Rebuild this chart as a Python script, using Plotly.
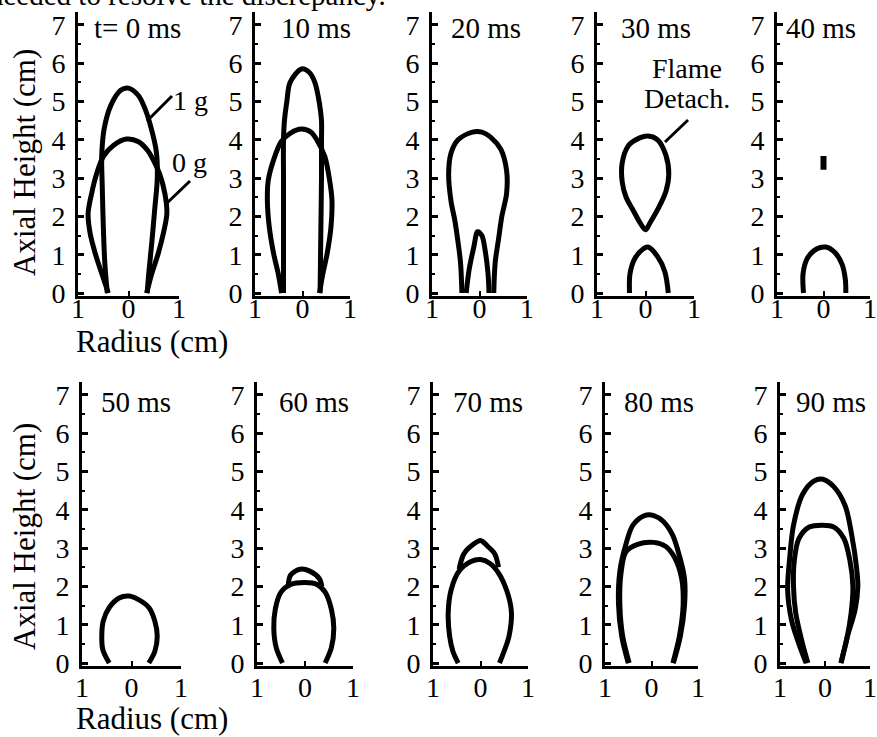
import plotly.graph_objects as go

# ---------------- data (r and z in cm) ----------------
panel_titles = ["t= 0 ms", "10 ms", "20 ms", "30 ms", "40 ms",
                "50 ms", "60 ms", "70 ms", "80 ms", "90 ms"]
y_tick_vals = [0, 1, 2, 3, 4, 5, 6, 7]
y_tick_text = ["0", "1", "2", "3", "4", "5", "6", "7"]
x_tick_vals = [-1, 0, 1]
x_tick_text = ["1", "0", "1"]

# t = 0 ms
r_0ms_1g = [-0.42, -0.47, -0.50, -0.52, -0.53, -0.48, -0.35, -0.15, 0.00, 0.20, 0.33, 0.45, 0.55, 0.57, 0.52, 0.46, 0.40, 0.37]
z_0ms_1g = [0.00, 0.80, 1.80, 2.80, 3.60, 4.30, 4.90, 5.30, 5.35, 5.15, 4.80, 4.30, 3.70, 3.00, 2.20, 1.30, 0.50, 0.00]
r_0ms_0g = [-0.40, -0.53, -0.66, -0.76, -0.80, -0.73, -0.63, -0.50, -0.30, -0.04, 0.20, 0.38, 0.50, 0.62, 0.72, 0.76, 0.69, 0.59, 0.46, 0.36]
z_0ms_0g = [0.00, 0.51, 1.04, 1.56, 2.08, 2.60, 3.12, 3.56, 3.85, 4.02, 3.95, 3.72, 3.45, 3.10, 2.60, 2.08, 1.56, 1.04, 0.50, 0.00]
# 10 ms
r_10ms_1g = [-0.40, -0.40, -0.40, -0.40, -0.40, -0.38, -0.33, -0.26, -0.02, 0.15, 0.26, 0.35, 0.40, 0.40, 0.40, 0.39, 0.38, 0.37]
z_10ms_1g = [0.00, 1.00, 2.00, 3.00, 4.00, 4.50, 5.00, 5.50, 5.85, 5.75, 5.50, 5.00, 4.50, 4.00, 3.00, 2.00, 1.00, 0.00]
r_10ms_0g = [-0.44, -0.51, -0.61, -0.70, -0.74, -0.72, -0.61, -0.45, -0.26, -0.02, 0.18, 0.30, 0.47, 0.57, 0.62, 0.60, 0.52, 0.42, 0.36]
z_10ms_0g = [0.00, 0.50, 1.04, 1.73, 2.43, 2.95, 3.47, 3.95, 4.17, 4.28, 4.20, 4.00, 3.56, 2.95, 2.43, 1.73, 1.04, 0.45, 0.00]
# 20 ms
r_20ms_a = [-0.37, -0.40, -0.46, -0.52, -0.60, -0.65, -0.60, -0.45, -0.15, 0.05, 0.25, 0.45, 0.57, 0.57, 0.47, 0.40, 0.33, 0.30]
z_20ms_a = [0.00, 0.80, 1.40, 1.90, 2.40, 3.10, 3.65, 4.00, 4.20, 4.20, 4.05, 3.75, 3.20, 2.60, 2.00, 1.40, 0.80, 0.00]
r_20ms_b = [-0.28, -0.22, -0.12, -0.04, 0.05, 0.12, 0.18, 0.20]
z_20ms_b = [0.00, 0.60, 1.20, 1.60, 1.50, 1.10, 0.50, 0.00]
# 30 ms (detached flame + base flame)
r_30ms_a = [0.00, -0.12, -0.25, -0.40, -0.48, -0.48, -0.35, -0.12, 0.05, 0.25, 0.42, 0.48, 0.42, 0.28, 0.10, 0.00]
z_30ms_a = [1.65, 1.85, 2.15, 2.50, 2.90, 3.40, 3.85, 4.05, 4.10, 4.00, 3.60, 3.10, 2.65, 2.25, 1.85, 1.65]
r_30ms_b = [-0.33, -0.32, -0.22, -0.05, 0.05, 0.25, 0.40, 0.47]
z_30ms_b = [0.00, 0.50, 0.90, 1.15, 1.20, 0.95, 0.55, 0.00]
# 40 ms
r_40ms_a = [0.00, 0.00]
z_40ms_a = [3.22, 3.58]
r_40ms_b = [-0.43, -0.44, -0.35, -0.15, 0.05, 0.25, 0.40, 0.47, 0.48]
z_40ms_b = [0.00, 0.50, 0.90, 1.15, 1.20, 1.05, 0.75, 0.35, 0.00]
# 50 ms
r_50ms = [-0.45, -0.58, -0.60, -0.57, -0.45, -0.25, -0.05, 0.15, 0.35, 0.47, 0.52, 0.47, 0.35]
z_50ms = [0.00, 0.35, 0.75, 1.10, 1.45, 1.70, 1.75, 1.65, 1.45, 1.10, 0.70, 0.30, 0.00]
# 60 ms
r_60ms_0g = [-0.47, -0.60, -0.65, -0.62, -0.50, -0.30, 0.00, 0.25, 0.42, 0.55, 0.60, 0.55, 0.42]
z_60ms_0g = [0.00, 0.40, 0.90, 1.40, 1.85, 2.05, 2.10, 2.05, 1.85, 1.40, 0.90, 0.40, 0.00]
r_60ms_1g = [-0.35, -0.30, -0.10, 0.10, 0.30, 0.35]
z_60ms_1g = [2.00, 2.30, 2.45, 2.40, 2.20, 2.00]
# 70 ms
r_70ms_0g = [-0.47, -0.58, -0.65, -0.68, -0.62, -0.45, -0.20, 0.00, 0.20, 0.38, 0.55, 0.65, 0.60, 0.48, 0.40]
z_70ms_0g = [0.00, 0.30, 0.70, 1.30, 1.90, 2.40, 2.65, 2.70, 2.60, 2.35, 1.90, 1.35, 0.70, 0.25, 0.00]
r_70ms_1g = [-0.45, -0.35, -0.15, 0.00, 0.15, 0.30, 0.38]
z_70ms_1g = [2.45, 2.85, 3.10, 3.20, 3.05, 2.85, 2.50]
# 80 ms
r_80ms_1g = [-0.50, -0.64, -0.71, -0.68, -0.55, -0.40, -0.15, 0.05, 0.25, 0.45, 0.60, 0.71, 0.71, 0.62, 0.47]
z_80ms_1g = [0.00, 0.70, 1.55, 2.40, 3.10, 3.60, 3.85, 3.85, 3.70, 3.35, 2.80, 2.20, 1.50, 0.70, 0.00]
r_80ms_0g = [-0.48, -0.62, -0.68, -0.66, -0.55, -0.30, 0.05, 0.30, 0.50, 0.65, 0.68, 0.60, 0.46]
z_80ms_0g = [0.00, 0.70, 1.50, 2.30, 2.90, 3.10, 3.15, 3.05, 2.75, 2.20, 1.50, 0.70, 0.00]
# 90 ms
r_90ms_1g = [-0.42, -0.58, -0.74, -0.83, -0.78, -0.70, -0.50, -0.25, -0.05, 0.20, 0.45, 0.60, 0.70, 0.73, 0.67, 0.50, 0.36]
z_90ms_1g = [0.00, 0.50, 1.10, 1.90, 2.80, 3.60, 4.40, 4.75, 4.80, 4.60, 4.10, 3.30, 2.50, 2.00, 1.40, 0.70, 0.00]
r_90ms_0g = [-0.38, -0.52, -0.65, -0.70, -0.68, -0.58, -0.35, -0.05, 0.20, 0.42, 0.55, 0.62, 0.58, 0.48, 0.35]
z_90ms_0g = [0.00, 0.60, 1.30, 2.00, 2.70, 3.25, 3.55, 3.60, 3.55, 3.25, 2.70, 2.00, 1.30, 0.60, 0.00]

panel_curves = [
    [(r_0ms_1g, z_0ms_1g), (r_0ms_0g, z_0ms_0g)],
    [(r_10ms_1g, z_10ms_1g), (r_10ms_0g, z_10ms_0g)],
    [(r_20ms_a, z_20ms_a), (r_20ms_b, z_20ms_b)],
    [(r_30ms_a, z_30ms_a), (r_30ms_b, z_30ms_b)],
    [(r_40ms_a, z_40ms_a), (r_40ms_b, z_40ms_b)],
    [(r_50ms, z_50ms)],
    [(r_60ms_0g, z_60ms_0g), (r_60ms_1g, z_60ms_1g)],
    [(r_70ms_0g, z_70ms_0g), (r_70ms_1g, z_70ms_1g)],
    [(r_80ms_1g, z_80ms_1g), (r_80ms_0g, z_80ms_0g)],
    [(r_90ms_1g, z_90ms_1g), (r_90ms_0g, z_90ms_0g)],
]

# ---------------- geometry / style ----------------
W, H = 877, 737
FONT = "'Liberation Serif', 'Times New Roman', Times, serif"
panel_x_px = [(78, 179), (255, 350), (432, 527), (597, 694), (777, 870),
              (82, 181), (257, 353), (433, 528), (605, 698), (780, 870)]
row_y_px = [(296.1, 11.5), (666.1, 381.5)]
row_xlabel_standoff = [-15, -6]
title_px = [(92, 28), (279, 28), (449, 28), (619, 28), (784, 28),
            (99, 402), (277, 402), (451, 402), (622, 402), (794, 402)]


def px(x):
    return x / W


def py(y):
    return 1 - y / H


fig = go.Figure()
layout = dict(width=W, height=H, margin=dict(l=0, r=0, t=0, b=0, pad=0, autoexpand=False),
              paper_bgcolor="white", plot_bgcolor="white", showlegend=False,
              font=dict(family=FONT, size=28, color="black"))

annotations = []
for i in range(10):
    k = "" if i == 0 else str(i + 1)
    row = 0 if i < 5 else 1
    x0, x1 = panel_x_px[i]
    yb, yt = row_y_px[row]
    layout["xaxis" + k] = dict(
        domain=[px(x0), px(x1)], range=[-1, 1], anchor="y" + k,
        showline=True, linewidth=3, linecolor="black",
        ticks="inside", ticklen=5, tickwidth=2, tickcolor="black",
        tickvals=x_tick_vals, ticktext=x_tick_text,
        showgrid=False, zeroline=False, fixedrange=True, automargin=False,
        tickfont=dict(family=FONT, size=28), ticklabelstandoff=row_xlabel_standoff[row])
    layout["yaxis" + k] = dict(
        domain=[py(yb), py(yt)], range=[-0.08, 7.35], anchor="x" + k,
        showline=True, linewidth=3, linecolor="black",
        ticks="inside", ticklen=6, tickwidth=3, tickcolor="black",
        tickvals=y_tick_vals, ticktext=y_tick_text,
        minor=dict(ticks="inside", ticklen=3, tickwidth=2, dtick=0.5, tickcolor="black"),
        showgrid=False, zeroline=False, fixedrange=True, automargin=False,
        tickfont=dict(family=FONT, size=28), ticklabelstandoff=4)
    for (rr, zz) in panel_curves[i]:
        w = 6 if len(rr) == 2 else 5
        fig.add_trace(go.Scatter(
            x=rr, y=zz, mode="lines", xaxis="x" + k, yaxis="y" + k,
            line=dict(color="black", width=w, shape="spline", smoothing=0.9),
            hoverinfo="skip"))
    tx, ty = title_px[i]
    annotations.append(dict(text=panel_titles[i], x=px(tx), y=py(ty), xref="paper", yref="paper",
                            xanchor="left", yanchor="middle", showarrow=False,
                            font=dict(family=FONT, size=29)))

# axis titles
for yc in (341, 718):
    annotations.append(dict(text="Radius (cm)", x=px(152), y=py(yc), xref="paper", yref="paper",
                            xanchor="center", yanchor="middle", showarrow=False,
                            font=dict(family=FONT, size=31)))
for yc in (163, 537):
    annotations.append(dict(text="Axial Height (cm)", x=px(24), y=py(yc), xref="paper", yref="paper",
                            xanchor="center", yanchor="middle", textangle=-90, showarrow=False,
                            font=dict(family=FONT, size=31)))

# labels
for txt, xc, yc in (("1 g", 190, 101), ("0 g", 189, 162), ("Flame", 687, 68), ("Detach.", 687, 99)):
    annotations.append(dict(text=txt, x=px(xc), y=py(yc), xref="paper", yref="paper",
                            xanchor="center", yanchor="middle", showarrow=False,
                            font=dict(family=FONT, size=28)))

# cut-off caption line at the very top of the scan
annotations.append(dict(text="needed to resolve the discrepancy.", x=px(388), y=py(-5),
                        xref="paper", yref="paper", xanchor="right", yanchor="middle",
                        showarrow=False, font=dict(family=FONT, size=29)))

shapes = []
for (xa, ya, xb, yb2) in ((147, 121, 172, 96), (167, 203, 190, 181), (665, 142, 688, 120)):
    shapes.append(dict(type="line", xref="paper", yref="paper",
                       x0=px(xa), y0=py(ya), x1=px(xb), y1=py(yb2),
                       line=dict(color="black", width=3)))

layout["annotations"] = annotations
layout["shapes"] = shapes
fig.update_layout(**layout)
fig.write_html("out.html", config={"displayModeBar": False},
               post_script="document.body.style.margin='0';document.body.style.overflow='hidden';")
